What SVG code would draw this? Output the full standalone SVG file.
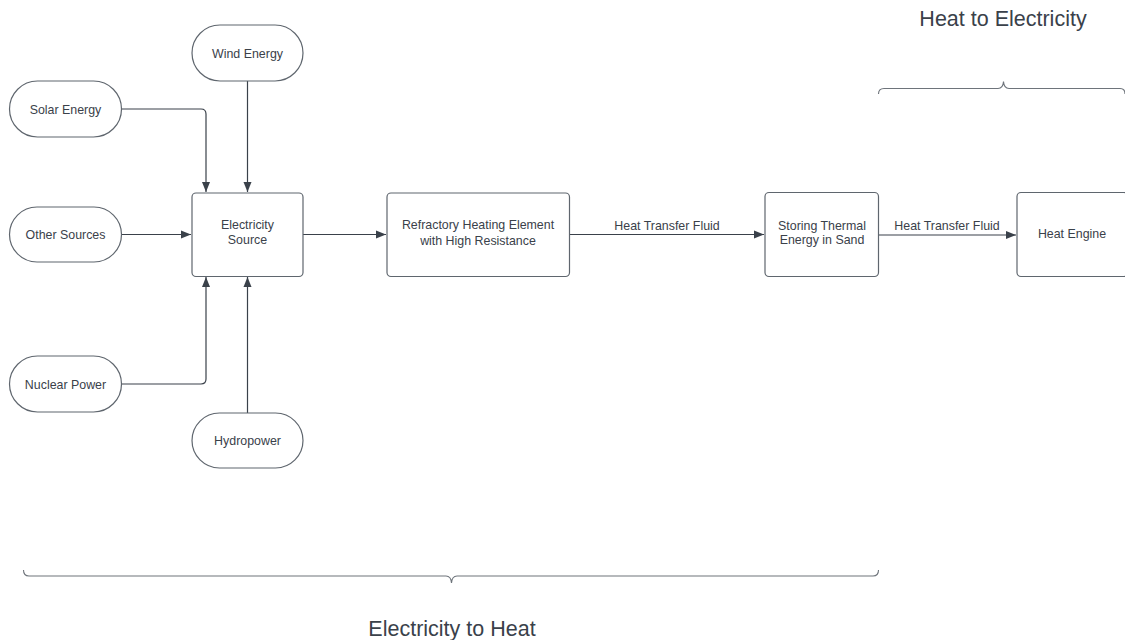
<svg xmlns="http://www.w3.org/2000/svg" width="1125" height="640" viewBox="0 0 1125 640">
<defs>
<marker id="arr" viewBox="0 0 10 10" refX="10" refY="5" markerWidth="10" markerHeight="10" markerUnits="userSpaceOnUse" orient="auto">
<path d="M0,1 L10,5 L0,9 z" fill="#3a414a"/>
</marker>
<style>
.node{fill:#ffffff;stroke:#5f666e;stroke-width:1.2}
.t{font-family:"Liberation Sans",Arial,sans-serif;font-size:12.4px;fill:#3a414a;text-anchor:middle}
.big{font-family:"Liberation Sans",Arial,sans-serif;font-size:21.5px;fill:#3a414a;text-anchor:middle}
.c{fill:none;stroke:#3a414a;stroke-width:1.2;marker-end:url(#arr)}
.brace{fill:none;stroke:#6e747b;stroke-width:1.1}
</style>
</defs>
<rect width="1125" height="640" fill="#ffffff"/>
<g id="connectors">
<path class="c" d="M121.5,109 H201 Q206,109 206,114 V192"/>
<path class="c" d="M247.5,81 V192"/>
<path class="c" d="M121.5,234.5 H191"/>
<path class="c" d="M121.5,384 H201 Q206,384 206,379 V277"/>
<path class="c" d="M247.5,413 V277"/>
<path class="c" d="M303,234.5 H386"/>
<path class="c" d="M569.5,234.5 H764"/>
<text class="t" x="667" y="229.5">Heat Transfer Fluid</text>
<path class="c" d="M878.5,235 H1016"/>
<text class="t" x="947" y="230">Heat Transfer Fluid</text>
</g>
<g id="wind"><rect class="node" x="192" y="25" width="111" height="56" rx="28"/><text class="t" x="247.5" y="57.5">Wind Energy</text></g>
<g id="solar"><rect class="node" x="9.5" y="81" width="112" height="56" rx="28"/><text class="t" x="65.5" y="113.5">Solar Energy</text></g>
<g id="other"><rect class="node" x="9.5" y="207" width="112" height="55" rx="27.5"/><text class="t" x="65.5" y="239">Other Sources</text></g>
<g id="nuclear"><rect class="node" x="9.5" y="356" width="112" height="56" rx="28"/><text class="t" x="65.5" y="388.5">Nuclear Power</text></g>
<g id="hydro"><rect class="node" x="192" y="413" width="111" height="55" rx="27.5"/><text class="t" x="247.5" y="445">Hydropower</text></g>
<g id="elec"><rect class="node" x="192" y="193" width="111" height="83.5" rx="4"/><text class="t" x="247.5" y="229">Electricity</text><text class="t" x="247.5" y="244">Source</text></g>
<g id="refractory"><rect class="node" x="387" y="193" width="182.5" height="83.5" rx="4"/><text class="t" x="478" y="229">Refractory Heating Element</text><text class="t" x="478" y="245">with High Resistance</text></g>
<g id="storing"><rect class="node" x="765" y="192.5" width="113.5" height="84" rx="4"/><text class="t" x="822" y="229.5">Storing Thermal</text><text class="t" x="822" y="244">Energy in Sand</text></g>
<g id="engine"><rect class="node" x="1017" y="192.5" width="111" height="84" rx="4"/><text class="t" x="1072" y="237.5">Heat Engine</text></g>
<g id="brace-top">
<path class="brace" d="M878.5,94 Q878.5,88.5 884,88.5 H998 Q1003,88.5 1003.5,81.5 Q1004,88.5 1009,88.5 H1120 Q1125,88.5 1125,94"/>
<text class="big" x="1003" y="26">Heat to Electricity</text>
</g>
<g id="brace-bottom">
<path class="brace" d="M23.5,570 Q23.5,576 29,576 H446 Q451,576 451.5,583 Q452,576 457,576 H873 Q878.5,576 878.5,570"/>
<text class="big" x="452" y="636">Electricity to Heat</text>
</g>
</svg>
